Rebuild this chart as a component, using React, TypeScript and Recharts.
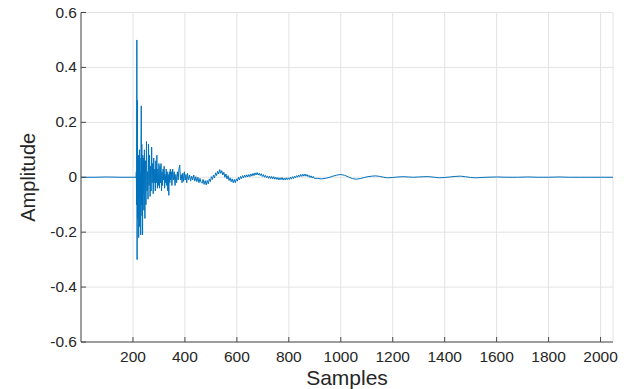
import { LineChart, Line, XAxis, YAxis, CartesianGrid } from 'recharts';

// sample index / amplitude pairs
const onset: [number, number][] = [
  [0, 0], [50, 0], [100, 0.001], [150, 0], [200, 0], [212, 0],
];

const burst: [number, number][] = [
  [213, 0.02], [214, -0.1], [215, 0.5], [216, -0.3], [217, 0.28], [218, -0.15],
  [219, 0.05], [220, -0.12], [221, 0.08], [222, -0.22], [223, 0.04], [224, -0.05],
  [225, 0.1], [226, -0.18], [227, 0.07], [228, -0.08], [229, 0.02], [230, -0.21],
  [231, 0.09], [232, 0.26], [233, -0.1], [234, 0.12], [235, -0.14], [236, 0.05],
  [237, -0.21], [238, 0.08], [239, -0.06], [240, 0.07], [242, -0.12], [244, 0.1],
  [246, -0.15], [248, 0.06], [250, -0.1], [252, 0.13], [254, -0.05], [256, 0.02],
  [258, -0.08], [260, 0.12], [262, -0.03], [264, 0.08], [266, -0.07], [268, 0.04],
  [270, -0.05], [272, 0.11], [274, -0.02], [276, 0.05], [278, -0.06], [280, 0.07],
  [282, -0.02], [284, 0.03], [286, -0.05], [288, 0.06], [290, -0.02], [292, 0.08],
  [294, -0.04], [296, 0.03], [298, -0.03], [300, 0.05],
];

const decay: [number, number][] = [
  [302, -0.04], [304, 0.04], [306, -0.02], [308, 0.05], [310, -0.05], [312, 0.02],
  [314, -0.03], [316, 0.03], [318, -0.01], [320, 0.04], [322, -0.04], [324, 0.01],
  [326, -0.02], [328, 0.03], [330, -0.03], [332, 0.02], [334, -0.05], [336, 0.01],
  [338, -0.066], [340, 0.02], [342, -0.02], [344, 0.03], [346, -0.01], [348, 0.02],
  [350, -0.03], [353, 0.03], [356, -0.01], [359, 0.02], [362, -0.03], [365, 0.01],
  [368, -0.02], [371, 0.02], [374, -0.01], [377, 0.03], [380, 0.044], [383, -0.01],
  [386, 0.01], [389, -0.02], [392, 0.015], [395, -0.015], [398, 0.02], [401, -0.01],
  [404, 0.01], [407, -0.02],
];

const ripple: [number, number][] = [
  [410, 0.014], [414, -0.01], [418, 0.008], [422, -0.014], [426, 0.004], [430, -0.01],
  [434, 0.008], [438, -0.014], [442, 0.002], [446, -0.016], [450, 0], [454, -0.02],
  [458, -0.004], [462, -0.018], [466, -0.022], [470, -0.008], [474, -0.026], [478, -0.012],
  [482, -0.028], [486, -0.012], [490, -0.024], [494, -0.006], [498, -0.016], [502, 0.002],
  [506, -0.008], [510, 0.008], [514, -0.002], [518, 0.016], [522, 0.006], [526, 0.022],
  [530, 0.012], [534, 0.028], [538, 0.014], [542, 0.024], [546, 0.008], [550, 0.018],
  [554, 0], [558, 0.012], [562, -0.006], [566, 0.006], [570, -0.012], [574, -0.002],
  [578, -0.016], [582, -0.006], [586, -0.02], [590, -0.008], [594, -0.02], [598, -0.006],
  [602, -0.014], [606, 0], [610, -0.01], [614, 0.003], [618, -0.005], [622, 0.006],
  [626, -0.002], [630, 0.008], [634, 0], [638, 0.009], [642, 0.001], [646, 0.01],
  [650, 0.002], [654, 0.012], [658, 0.004], [662, 0.014], [666, 0.006], [670, 0.016],
  [674, 0.008], [678, 0.017], [682, 0.008], [686, 0.015], [690, 0.006], [694, 0.013],
  [698, 0.003], [702, 0.01], [706, 0], [710, 0.007], [714, -0.002], [718, 0.005],
  [722, -0.004], [726, 0.004], [730, -0.005], [734, 0.003], [738, -0.006], [742, 0.002],
  [746, -0.007], [750, 0], [754, -0.008], [758, -0.001], [762, -0.01], [766, -0.002],
  [770, -0.009], [774, -0.001], [778, -0.01], [782, -0.003], [786, -0.01], [790, -0.002],
  [794, -0.009], [798, -0.002], [802, -0.008], [806, 0], [810, -0.007], [814, 0.002],
  [818, -0.005], [822, 0.004], [826, -0.002], [830, 0.006], [834, 0], [838, 0.008],
  [842, 0.002], [846, 0.01], [850, 0.003], [854, 0.011], [858, 0.004], [862, 0.012],
  [866, 0.004], [870, 0.01], [874, 0.002], [878, 0.007], [882, -0.001], [886, 0.005],
  [890, -0.003], [894, 0.003], [898, -0.004],
];

const tail: [number, number][] = [
  [910, -0.004], [925, -0.006], [940, -0.004], [955, -0.001],
  [970, 0.004], [985, 0.008], [1000, 0.01], [1015, 0.007], [1030, 0.001], [1045, -0.005],
  [1060, -0.007], [1075, -0.005], [1090, -0.001], [1105, 0.002], [1120, 0.004], [1135, 0.005],
  [1150, 0.003], [1165, 0], [1180, -0.002], [1200, -0.001], [1220, 0.001], [1240, 0.002],
  [1260, 0.001], [1280, 0], [1300, 0.001], [1320, 0.002], [1340, 0.002], [1360, 0],
  [1380, -0.002], [1400, -0.001], [1420, 0.001], [1440, 0.003], [1460, 0.004], [1480, 0.002],
  [1500, -0.001], [1520, -0.002], [1540, -0.001], [1560, 0], [1600, 0.001], [1640, 0],
  [1680, 0], [1720, 0.001], [1760, 0], [1800, 0], [1840, 0.001], [1880, 0],
  [1920, 0], [1960, 0], [2000, 0], [2048, 0],
];

const xTicks = [200, 400, 600, 800, 1000, 1200, 1400, 1600, 1800, 2000];
const yTicks = [-0.6, -0.4, -0.2, 0, 0.2, 0.4, 0.6];

const data = [...onset, ...burst, ...decay, ...ripple, ...tail].map(([s, a]) => ({ s, a }));

const FONT = '"Liberation Sans", Arial, Helvetica, sans-serif';
const TEXT = '#262626';
const AXIS = '#4a4a4a';
const TICK_LEN = 5;

const fmtY = (v: number) => (v === 0 ? '0' : v.toFixed(1));

function BottomTick({ x, y, payload }: any) {
  return (
    <g>
      <line x1={x} y1={y} x2={x} y2={y - TICK_LEN} stroke={AXIS} />
      <text x={x} y={y + 20} textAnchor="middle" fontSize={15.5} fill={TEXT} fontFamily={FONT}>
        {payload.value}
      </text>
    </g>
  );
}

function TopTick({ x, y }: any) {
  return <line x1={x} y1={y} x2={x} y2={y + TICK_LEN} stroke={AXIS} />;
}

function LeftTick({ x, y, payload }: any) {
  return (
    <g>
      <line x1={x} y1={y} x2={x + TICK_LEN} y2={y} stroke={AXIS} />
      <text x={x - 4} y={y + 5} textAnchor="end" fontSize={15.5} fill={TEXT} fontFamily={FONT}>
        {fmtY(payload.value)}
      </text>
    </g>
  );
}

function RightTick({ x, y }: any) {
  return <line x1={x} y1={y} x2={x - TICK_LEN} y2={y} stroke={AXIS} />;
}

export default function App() {
  return (
    <div style={{ position: 'absolute', left: 0, top: 0, background: '#fff' }}>
      <LineChart width={631} height={389} data={data} margin={{ top: 12.5, right: 18, bottom: 0, left: 0 }}>
        <CartesianGrid stroke="#e3e3e3" strokeWidth={1} />
        <XAxis
          dataKey="s"
          type="number"
          domain={[0, 2048]}
          ticks={xTicks}
          height={47}
          tickSize={0}
          tickMargin={0}
          tickLine={false}
          stroke={AXIS}
          tick={<BottomTick />}
          interval={0}
          allowDataOverflow
          label={{
            content: ({ viewBox }: any) => (
              <text
                x={viewBox.x + viewBox.width / 2}
                y={viewBox.y + 43}
                textAnchor="middle"
                fontSize={21}
                fill={TEXT}
                fontFamily={FONT}
              >
                Samples
              </text>
            ),
          }}
        />
        <XAxis
          xAxisId="top"
          orientation="top"
          dataKey="s"
          type="number"
          domain={[0, 2048]}
          ticks={xTicks}
          height={0}
          tickSize={0}
          tickMargin={0}
          tickLine={false}
          stroke={AXIS}
          tick={<TopTick />}
          interval={0}
          allowDataOverflow
        />
        <YAxis
          type="number"
          domain={[-0.6, 0.6]}
          ticks={yTicks}
          width={81}
          tickSize={0}
          tickMargin={0}
          tickLine={false}
          stroke={AXIS}
          tick={<LeftTick />}
          interval={0}
          allowDataOverflow
          label={{
            content: ({ viewBox }: any) => {
              const cx = 28;
              const cy = viewBox.y + viewBox.height / 2;
              return (
                <text
                  x={cx}
                  y={cy}
                  transform={`rotate(-90 ${cx} ${cy})`}
                  textAnchor="middle"
                  dominantBaseline="central"
                  fontSize={20}
                  fill={TEXT}
                  fontFamily={FONT}
                >
                  Amplitude
                </text>
              );
            },
          }}
        />
        <YAxis
          yAxisId="right"
          orientation="right"
          type="number"
          domain={[-0.6, 0.6]}
          ticks={yTicks}
          width={0}
          tickSize={0}
          tickMargin={0}
          tickLine={false}
          stroke={AXIS}
          tick={<RightTick />}
          interval={0}
          allowDataOverflow
        />
        {/* invisible twin so the top and right axes get drawn as the box */}
        <Line
          xAxisId="top"
          yAxisId="right"
          type="linear"
          dataKey="a"
          stroke="none"
          dot={false}
          activeDot={false}
          isAnimationActive={false}
        />
        <Line
          type="linear"
          dataKey="a"
          stroke="#0072BD"
          strokeWidth={1}
          dot={false}
          isAnimationActive={false}
        />
      </LineChart>
    </div>
  );
}
